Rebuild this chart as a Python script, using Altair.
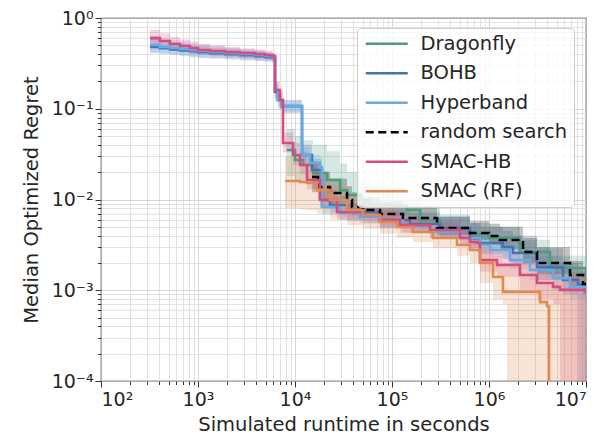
import altair as alt
import pandas as pd

SERIES = ["Dragonfly", "BOHB", "Hyperband", "random search", "SMAC-HB", "SMAC (RF)"]
COLORS = ["#4c9c80", "#4a72b0", "#67abe0", "#000000", "#d64b80", "#e08a4f"]
DASHES = [[1, 0], [1, 0], [1, 0], [8, 4.5], [1, 0], [1, 0]]

# Dragonfly
DF_X = [8270, 10000, 12080, 15340, 21370, 29110, 34380, 46740, 59290, 102400, 142800, 194400, 312700, 636400, 1000000, 2088000, 4254000, 10000000]
DF_MED = [0.0351, 0.0272, 0.0240, 0.0196, 0.0164, 0.0127, 0.0112, 0.00987, 0.00869, 0.00848, 0.00766, 0.00594, 0.00485, 0.00417, 0.00377, 0.00264, 0.00176, 0.00106]
DF_LO = [0.018, 0.016, 0.015, 0.013, 0.011, 0.0092, 0.0085, 0.0075, 0.0068, 0.0066, 0.0060, 0.0048, 0.0040, 0.0034, 0.0030, 0.0021, 0.0014, 0.0009]
DF_HI = [0.060, 0.050, 0.045, 0.040, 0.034, 0.025, 0.020, 0.016, 0.013, 0.0115, 0.0105, 0.0085, 0.0068, 0.0055, 0.0050, 0.0036, 0.0024, 0.0014]

# BOHB
BO_X = [320, 405, 514, 652, 827, 1000, 1330, 1900, 2710, 3870, 4910, 5800, 6220, 6680, 7340, 11810, 14970, 18970, 22950, 34380, 75200, 153400, 312700, 636400, 807400, 1393000, 1766000, 3126000, 5790000, 8280000, 9310000, 10000000]
BO_MED = [0.48, 0.465, 0.45, 0.44, 0.43, 0.42, 0.41, 0.40, 0.39, 0.38, 0.37, 0.362, 0.153, 0.125, 0.107, 0.0309, 0.0211, 0.00987, 0.00869, 0.00728, 0.00594, 0.00537, 0.00485, 0.00375, 0.00332, 0.00300, 0.00257, 0.00180, 0.00130, 0.00115, 0.00109, 0.00106]
BO_LO = [0.41, 0.40, 0.39, 0.38, 0.37, 0.36, 0.355, 0.35, 0.34, 0.335, 0.33, 0.32, 0.12, 0.10, 0.09, 0.025, 0.017, 0.0080, 0.0070, 0.0058, 0.0048, 0.0043, 0.0038, 0.0029, 0.0025, 0.0022, 0.0019, 0.0013, 0.0009, 1e-6, 1e-6, 1e-6]
BO_HI = [0.60, 0.57, 0.54, 0.52, 0.50, 0.49, 0.47, 0.46, 0.44, 0.43, 0.415, 0.40, 0.19, 0.15, 0.125, 0.040, 0.028, 0.013, 0.011, 0.0092, 0.0078, 0.0072, 0.0066, 0.0055, 0.0050, 0.0045, 0.0040, 0.0029, 0.0020, 0.0017, 0.0016, 0.0016]

# Hyperband
HB_X = [320, 405, 514, 652, 827, 1000, 1330, 1900, 2710, 3870, 4910, 5800, 6220, 6680, 7340, 11810, 14290, 18110, 18970, 29110, 46740, 75200, 129700, 246400, 502000, 807400, 1024000, 1645000, 2648000, 4570000, 6840000, 10000000]
HB_MED = [0.504, 0.479, 0.467, 0.455, 0.444, 0.433, 0.422, 0.411, 0.401, 0.391, 0.381, 0.372, 0.161, 0.125, 0.107, 0.0309, 0.0252, 0.0228, 0.00827, 0.0071, 0.00641, 0.00594, 0.00511, 0.00438, 0.00377, 0.00315, 0.00278, 0.00215, 0.00167, 0.00136, 0.00109, 0.00096]
HB_LO = [0.42, 0.41, 0.40, 0.39, 0.38, 0.37, 0.365, 0.355, 0.35, 0.34, 0.335, 0.33, 0.13, 0.105, 0.092, 0.026, 0.020, 0.018, 0.0068, 0.0060, 0.0054, 0.0050, 0.0043, 0.0037, 0.0031, 0.0026, 0.0023, 0.0017, 0.0013, 0.0010, 0.0008, 0.0007]
HB_HI = [0.64, 0.60, 0.57, 0.55, 0.53, 0.51, 0.49, 0.47, 0.455, 0.44, 0.425, 0.41, 0.20, 0.15, 0.125, 0.038, 0.031, 0.029, 0.0105, 0.0088, 0.0080, 0.0074, 0.0064, 0.0056, 0.0049, 0.0042, 0.0038, 0.0030, 0.0024, 0.0020, 0.0016, 0.0013]

# random search
RS_X = [14970, 17270, 22950, 34380, 38700, 50200, 75200, 129700, 291200, 636400, 1000000, 1297000, 2243000, 3126000, 6840000, 9310000, 10000000]
RS_MED = [0.0177, 0.0137, 0.0118, 0.00987, 0.00827, 0.00766, 0.00692, 0.00625, 0.00485, 0.00428, 0.00396, 0.00358, 0.00264, 0.00200, 0.00147, 0.00117, 0.00114]
RS_LO = [0.012, 0.010, 0.0090, 0.0078, 0.0068, 0.0063, 0.0057, 0.0052, 0.0041, 0.0036, 0.0032, 0.0028, 0.0020, 0.0015, 0.0011, 0.0009, 0.0009]
RS_HI = [0.026, 0.020, 0.017, 0.014, 0.012, 0.0105, 0.0095, 0.0085, 0.0064, 0.0058, 0.0054, 0.0050, 0.0038, 0.0030, 0.0021, 0.0017, 0.0016]

# SMAC-HB
SH_X = [320, 405, 514, 652, 827, 1000, 1330, 1900, 2710, 3870, 4910, 5800, 6220, 7000, 7520, 9530, 11260, 13300, 18110, 27100, 50200, 75200, 120900, 246400, 502000, 636400, 751500, 807400, 1209000, 2088000, 3126000, 4570000, 5395000, 10000000]
SH_MED = [0.60, 0.558, 0.517, 0.491, 0.467, 0.444, 0.433, 0.422, 0.411, 0.401, 0.391, 0.381, 0.161, 0.125, 0.0419, 0.0309, 0.0240, 0.0164, 0.00987, 0.00728, 0.00675, 0.00594, 0.00524, 0.00461, 0.00377, 0.00340, 0.00332, 0.00215, 0.00190, 0.00147, 0.00120, 0.00109, 0.00101, 0.00096]
SH_LO = [0.50, 0.47, 0.44, 0.42, 0.40, 0.39, 0.38, 0.37, 0.36, 0.355, 0.35, 0.34, 0.13, 0.10, 0.033, 0.024, 0.019, 0.013, 0.0080, 0.0060, 0.0055, 0.0049, 0.0043, 0.0038, 0.0031, 0.0027, 0.0026, 0.0016, 0.0014, 0.0010, 0.0008, 0.0007, 1e-6, 1e-6]
SH_HI = [0.74, 0.68, 0.62, 0.58, 0.55, 0.52, 0.50, 0.48, 0.465, 0.45, 0.435, 0.42, 0.20, 0.16, 0.055, 0.042, 0.034, 0.025, 0.013, 0.0090, 0.0084, 0.0075, 0.0066, 0.0058, 0.0048, 0.0044, 0.0043, 0.0030, 0.0027, 0.0022, 0.0018, 0.0016, 0.0015, 0.0015]

# SMAC (RF)
SR_X = [7880, 11260, 13300, 16860, 22950, 34380, 50200, 75200, 112600, 164500, 264700, 468100, 636400, 807400, 1100000, 1393000, 1534000, 3357000, 3965000, 4157000, 10000000]
SR_MED = [0.0160, 0.0156, 0.0152, 0.0127, 0.00987, 0.00766, 0.00675, 0.00565, 0.00498, 0.00438, 0.00377, 0.00315, 0.00278, 0.00200, 0.00140, 0.00096, 0.00096, 0.00074, 0.00067, 1e-6, 1e-6]
SR_LO = [0.0080, 0.0078, 0.0076, 0.0070, 0.0060, 0.0052, 0.0048, 0.0042, 0.0038, 0.0034, 0.0029, 0.0024, 0.0020, 0.0012, 0.0008, 0.0007, 1e-6, 1e-6, 1e-6, 1e-6, 1e-6]
SR_HI = [0.030, 0.028, 0.026, 0.020, 0.015, 0.011, 0.0095, 0.0080, 0.0068, 0.0060, 0.0050, 0.0042, 0.0038, 0.0030, 0.0024, 0.0020, 0.0020, 0.0017, 0.0016, 0.0015, 0.0015]

X_MAJOR = [1e2, 1e3, 1e4, 1e5, 1e6, 1e7]
Y_MAJOR = [1e-4, 1e-3, 1e-2, 1e-1, 1.0]
X_MINOR = [k * 10.0 ** e for e in range(2, 7) for k in range(2, 10)]
Y_MINOR = [k * 10.0 ** e for e in range(-4, 0) for k in range(2, 10)]

SOURCES = [
    ("Dragonfly", DF_X, DF_MED, DF_LO, DF_HI),
    ("BOHB", BO_X, BO_MED, BO_LO, BO_HI),
    ("Hyperband", HB_X, HB_MED, HB_LO, HB_HI),
    ("random search", RS_X, RS_MED, RS_LO, RS_HI),
    ("SMAC-HB", SH_X, SH_MED, SH_LO, SH_HI),
    ("SMAC (RF)", SR_X, SR_MED, SR_LO, SR_HI),
]
COLOR_OF = dict(zip(SERIES, COLORS))
rows = []
for name, xs, med, lo, hi in SOURCES:
    for a, b, c, d in zip(xs, med, lo, hi):
        rows.append({"series": name, "band_color": COLOR_OF[name], "x": a, "med": b, "lo": c, "hi": d})
df = pd.DataFrame(rows)

FONT = "DejaVu Sans"
E = "round(log(datum.value)/LN10)"
LABEL_EXPR = ("'10' + (" + E + " < 0 ? '\u207b' : '') + "
              "['\u2070','\u00b9','\u00b2','\u00b3','\u2074','\u2075','\u2076','\u2077','\u2078','\u2079'][abs(" + E + ")]")

x_scale = alt.Scale(type="log", domain=[1e2, 1e7], nice=False)
y_scale = alt.Scale(type="log", domain=[1e-4, 1.0], nice=False)

minor_axis = dict(grid=True, gridColor="#dadada", gridWidth=0.8, tickSize=3.5,
                  tickColor="#333333", labels=False, title=None, domain=False)
major_common = dict(grid=True, gridColor="#cccccc", gridWidth=0.8, tickSize=6,
                    tickColor="#333333", labelExpr=LABEL_EXPR, labelFont=FONT,
                    labelFontSize=19, labelColor="#262626", titleFont=FONT,
                    titleFontSize=19.5, titleFontWeight="normal", titleColor="#262626",
                    domain=False)

legend_opts = dict(title=None, orient="none", legendX=256, legendY=10,
                   symbolType="M-3,0H3", symbolSize=196, symbolOffset=14,
                   labelOffset=24, symbolStrokeWidth=2.6, labelFont=FONT,
                   labelFontSize=19.5, labelColor="#262626", rowPadding=8.5,
                   padding=6, fillColor="rgba(255,255,255,0.8)",
                   strokeColor="#cccccc", cornerRadius=4)

base = alt.Chart(df)

bands = base.mark_area(interpolate="step-after", opacity=0.23, clip=True).encode(
    x=alt.X("x:Q", scale=x_scale, axis=alt.Axis(values=X_MINOR, orient="bottom", **minor_axis)),
    y=alt.Y("lo:Q", scale=y_scale, axis=alt.Axis(values=Y_MINOR, orient="left", **minor_axis)),
    y2="hi:Q",
    fill=alt.Fill("band_color:N", scale=None),
    detail="series:N",
)

lines = base.mark_line(interpolate="step-after", strokeWidth=2.6, clip=True).encode(
    x=alt.X("x:Q", scale=x_scale,
            axis=alt.Axis(values=X_MAJOR, orient="bottom", title="Simulated runtime in seconds",
                          labelPadding=3, titlePadding=6, **major_common)),
    y=alt.Y("med:Q", scale=y_scale,
            axis=alt.Axis(values=Y_MAJOR, orient="left", title="Median Optimized Regret",
                          labelPadding=2, titlePadding=10, **major_common)),
    color=alt.Color("series:N", scale=alt.Scale(domain=SERIES, range=COLORS),
                    legend=alt.Legend(**legend_opts)),
    strokeDash=alt.StrokeDash("series:N", scale=alt.Scale(domain=SERIES, range=DASHES),
                              legend=alt.Legend(**legend_opts)),
)

chart = alt.layer(bands, lines).resolve_axis(x="independent", y="independent").properties(
    width=485, height=363,
    autosize=alt.AutoSizeParams(type="none"),
    padding={"left": 93, "top": 10, "right": 8, "bottom": 60},
).configure_view(stroke="#333333", strokeWidth=1.2)

chart.save("out.html", embed_options={"renderer": "svg", "actions": False})
